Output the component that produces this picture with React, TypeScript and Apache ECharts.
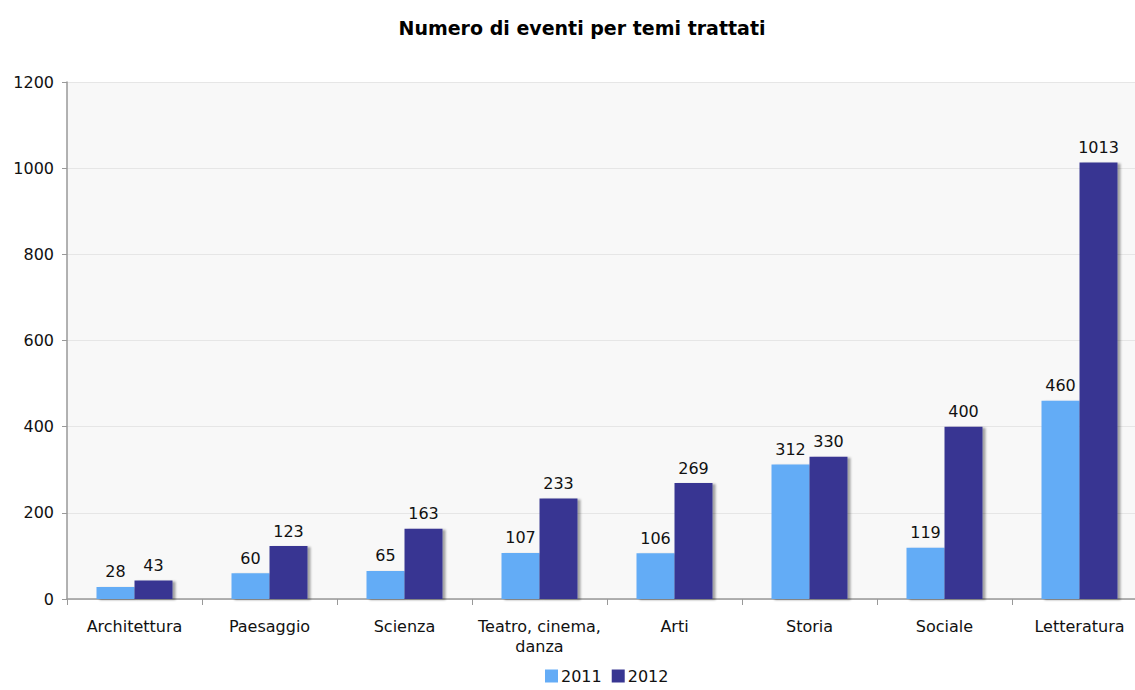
import React, { useEffect, useRef } from "react";
import * as echarts from "echarts";

const categories = ["Architettura", "Paesaggio", "Scienza", "Teatro, cinema,\ndanza", "Arti", "Storia", "Sociale", "Letteratura"];
const values2011 = [28, 60, 65, 107, 106, 312, 119, 460];
const values2012 = [43, 123, 163, 233, 269, 330, 400, 1013];
const yTicks = { min: 0, max: 1200, interval: 200 };

const FONT = "DejaVu Sans";

export default function App() {
  const ref = useRef<HTMLDivElement>(null);
  useEffect(() => {
    const chart = echarts.init(ref.current!, null, { renderer: "svg" });
    const barStyle = (color: string) => ({
      color,
      shadowColor: "rgba(0,0,0,0.35)",
      shadowBlur: 2,
      shadowOffsetX: 3,
      shadowOffsetY: 1,
    });
    const label = {
      show: true,
      position: "top" as const,
      distance: 7,
      color: "#111",
      fontFamily: FONT,
      fontSize: 16,
    };
    chart.setOption({
      animation: false,
      backgroundColor: "#fff",
      title: {
        text: "Numero di eventi per temi trattati",
        left: 577,
        top: 13,
        textAlign: "center",
        textStyle: { fontFamily: FONT, fontWeight: "bold", fontSize: 19, color: "#000" },
      },
      legend: {
        top: 668,
        left: 545,
        padding: 0,
        itemWidth: 13,
        itemHeight: 13,
        itemGap: 10,
        icon: "rect",
        textStyle: { fontFamily: FONT, fontSize: 16, color: "#111", padding: [0, 0, 0, -2] },
        data: ["2011", "2012"],
      },
      grid: {
        left: 67,
        right: 3,
        top: 82,
        bottom: 91,
        show: true,
        backgroundColor: "#f8f8f8",
        borderWidth: 0,
      },
      xAxis: {
        type: "category",
        data: categories,
        axisLine: { lineStyle: { color: "#999", width: 1.5 } },
        axisTick: { show: true, alignWithLabel: false, length: 6, lineStyle: { color: "#999" } },
        axisLabel: { fontFamily: FONT, fontSize: 16, color: "#111", margin: 17, lineHeight: 20, interval: 0 },
      },
      yAxis: {
        type: "value",
        min: yTicks.min,
        max: yTicks.max,
        interval: yTicks.interval,
        axisLine: { show: true, lineStyle: { color: "#999", width: 1.5 } },
        axisTick: { show: true, length: 5, lineStyle: { color: "#999" } },
        axisLabel: { fontFamily: FONT, fontSize: 16, color: "#111", margin: 13, formatter: (v: number) => String(v) },
        splitLine: { lineStyle: { color: "#e6e6e6" } },
      },
      series: [
        {
          name: "2011",
          type: "bar",
          data: values2011,
          barWidth: 38,
          barGap: "0%",
          itemStyle: barStyle("#64acf6"),
          label,
        },
        {
          name: "2012",
          type: "bar",
          data: values2012,
          barWidth: 38,
          itemStyle: barStyle("#383692"),
          label,
        },
      ],
    });
    return () => chart.dispose();
  }, []);
  return (
    <div style={{ position: "absolute", left: 0, top: 0, width: 1135, height: 690, overflow: "hidden" }}>
      <div ref={ref} style={{ width: 1150, height: 690 }} />
    </div>
  );
}
